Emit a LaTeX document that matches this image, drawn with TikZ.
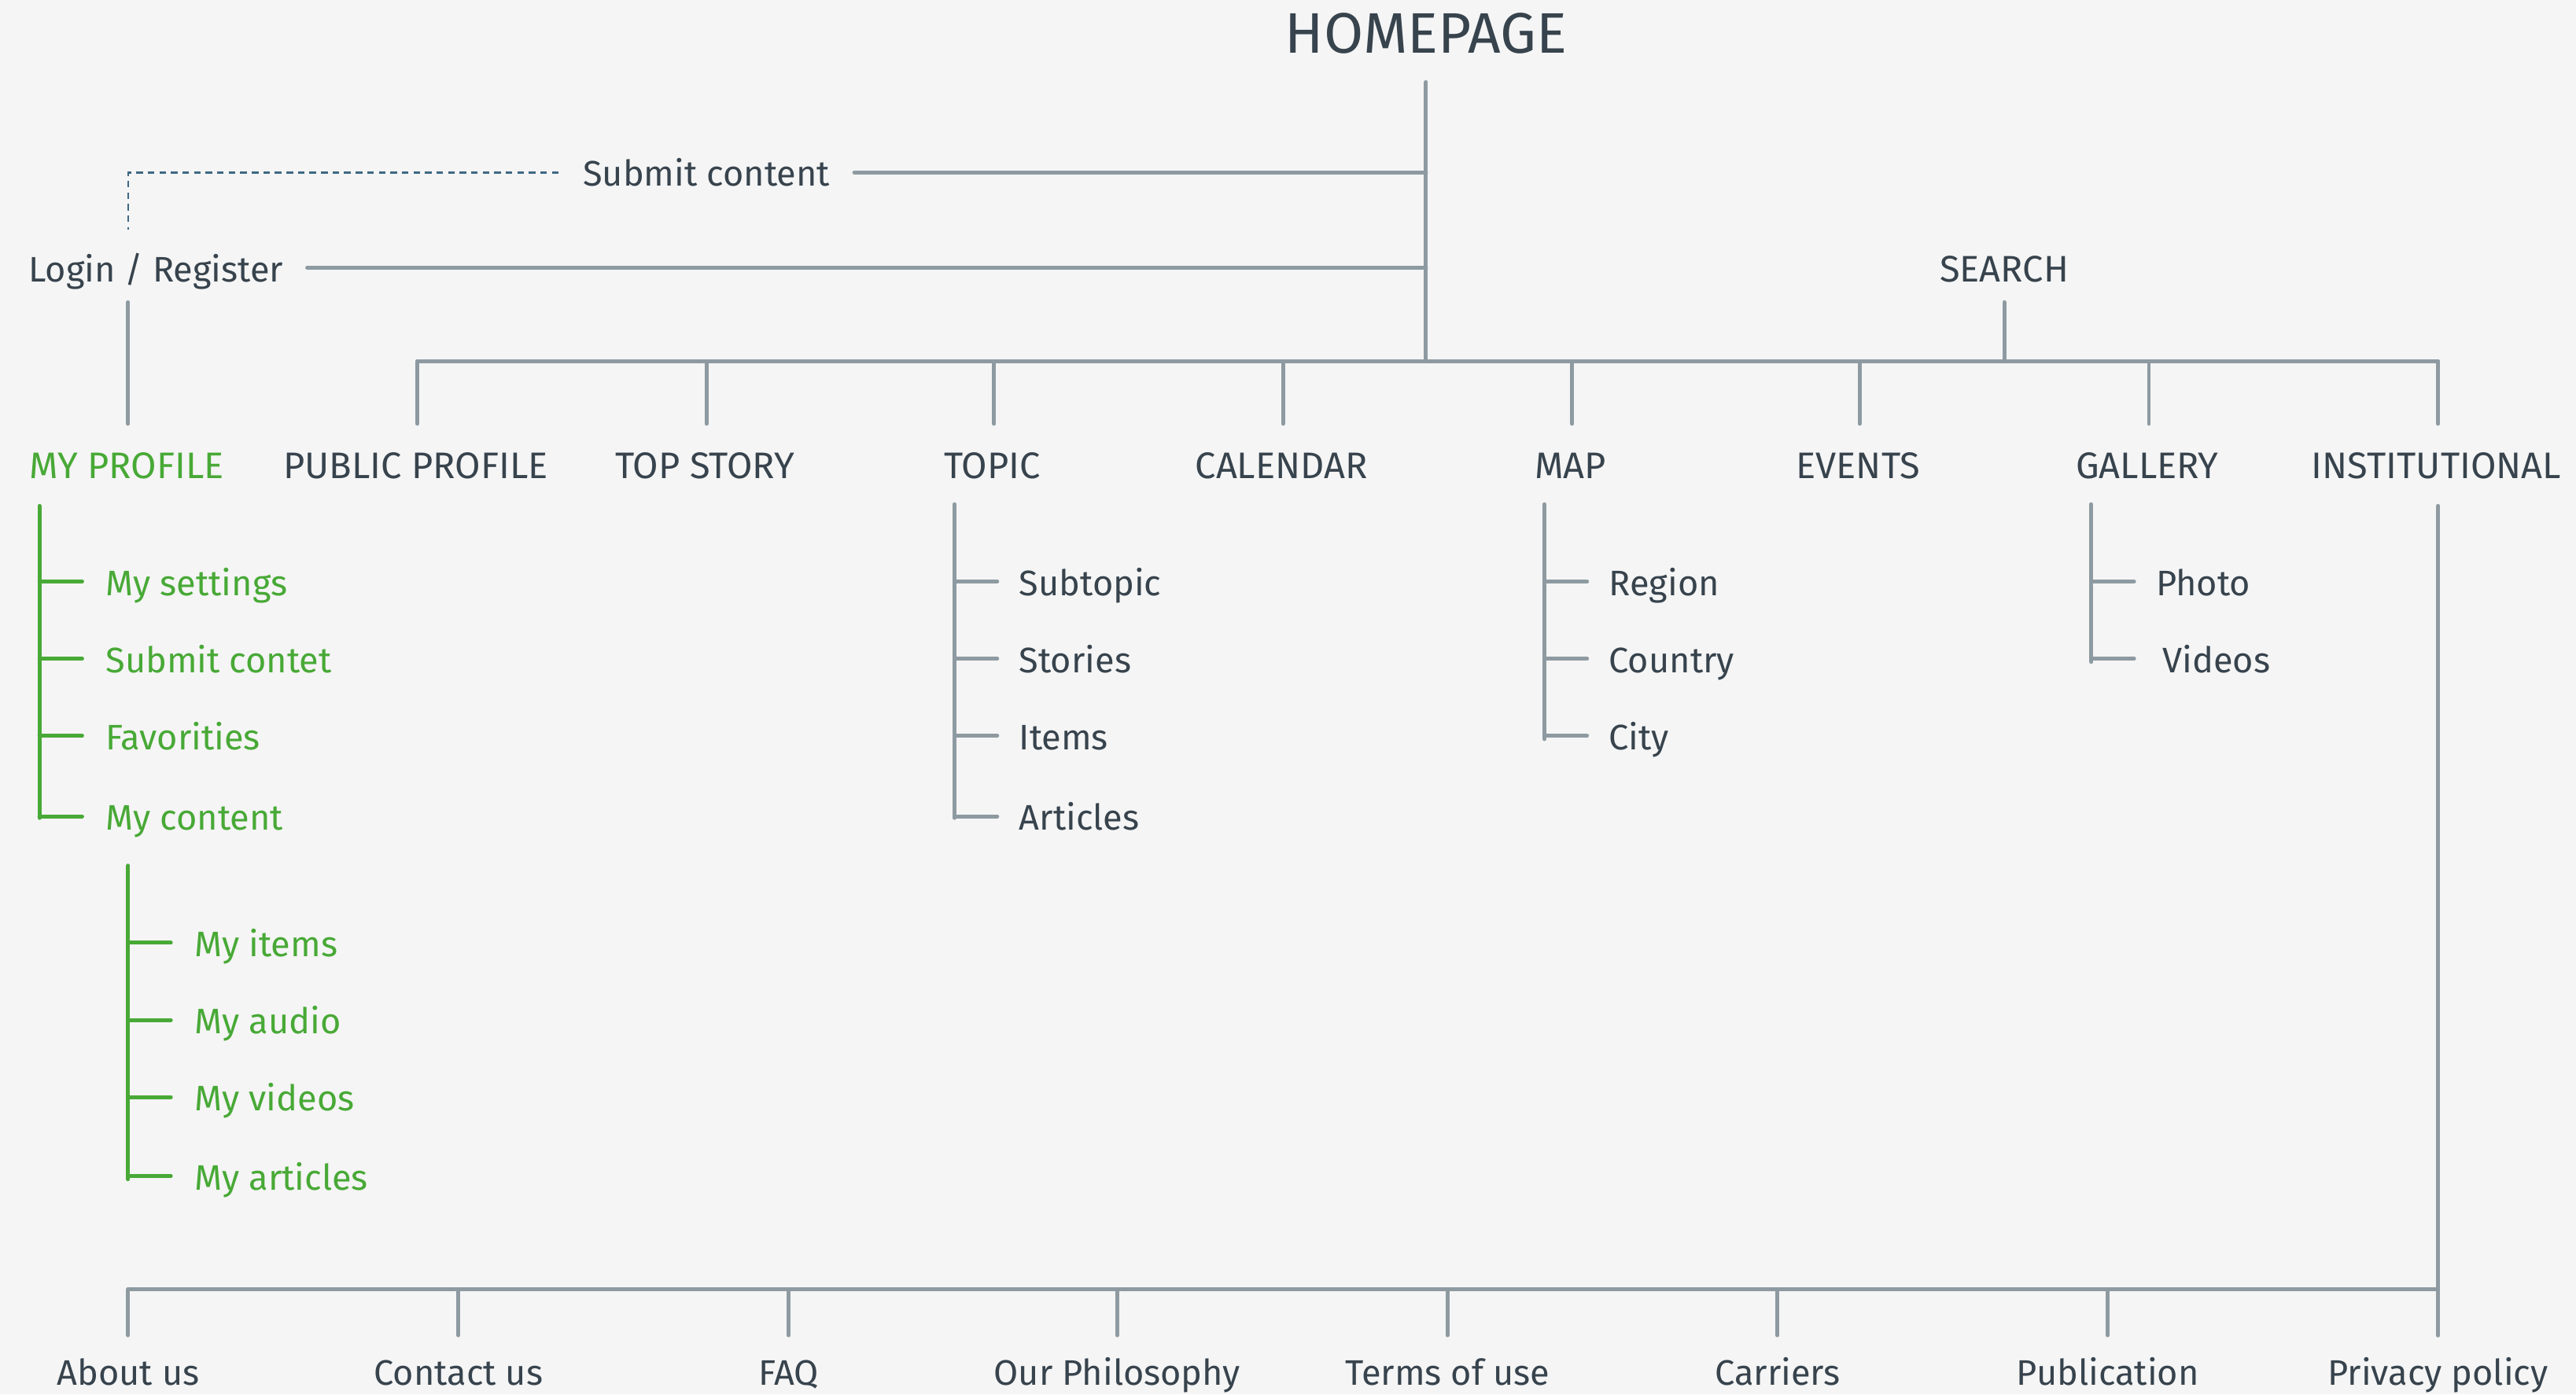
\documentclass[tikz,border=0pt]{standalone}
\usepackage{fontspec}
\setmainfont{Fira Sans}
\usetikzlibrary{calc}
\definecolor{bg}{HTML}{F5F5F5}
\definecolor{ln}{HTML}{8E9AA1}
\definecolor{tx}{HTML}{37434D}
\definecolor{gr}{HTML}{48A936}
\definecolor{dsh}{HTML}{3E6884}
\begin{document}
\begin{tikzpicture}[x=0.02cm,y=-0.02cm,
  lbl/.style={text=tx,font=\fontsize{12.3}{14}\selectfont,inner sep=0pt,anchor=base},
  caplbl/.style={lbl,font=\fontsize{12.8}{14}\selectfont},
  sublbl/.style={lbl,anchor=base west},
  gsub/.style={sublbl,text=gr},
  conn/.style={draw=ln,line width=1.35pt,line cap=round},
  gconn/.style={draw=gr,line width=1.35pt,line cap=round},
  dconn/.style={draw=dsh,line width=0.75pt,dash pattern=on 2.3pt off 1.7pt}]
\fill[bg] (0,0) rectangle (1568,849);
\useasboundingbox (0,0) rectangle (1568,849);

% top
\node[lbl,font=\fontsize{19.8}{22}\selectfont] (home) at (868,32.5) {HOMEPAGE};
\coordinate (hTop) at (868,50);
\coordinate (hSub) at (868,105);
\coordinate (hLog) at (868,163);
\coordinate (hBus) at (868,220);
\draw[conn] (hTop) -- (hBus);

\node[lbl] (submit) at (430,113) {Submit content};
\coordinate (subE) at (520,105);
\draw[conn] (subE) -- (hSub);
\coordinate (dStart) at (340,105);
\coordinate (dEnd) at (78,140);
\draw[dconn] (dStart) -| (dEnd);

\node[lbl] (login) at (95,171.5) {Login / Register};
\coordinate (logE) at (187,163);
\draw[conn] (logE) -- (hLog);
\coordinate (logS) at (78,184);
\coordinate (profN) at (78,258);
\draw[conn] (logS) -- (profN);

\node[caplbl] (search) at (1220,171.5) {SEARCH};
\coordinate (srchS) at (1220,184);
\coordinate (srchB) at (1220,220);
\draw[conn] (srchS) -- (srchB);

% main bus
\coordinate (busL) at (254,220);
\coordinate (busR) at (1484,220);
\draw[conn] (busL) -- (busR);

\node[caplbl,text=gr] (myprofile) at (77,291.5) {MY PROFILE};
\foreach \x/\n/\t in {253/pubprof/PUBLIC PROFILE,429/topstory/TOP STORY,604/topic/TOPIC,780/calendar/CALENDAR,956/map/MAP,1131/events/EVENTS,1307/gallery/GALLERY,1483/inst/INSTITUTIONAL}{
  \node[caplbl] (\n) at (\x,291.5) {\t};
  \coordinate (\n-top) at (\x+1,220);
  \coordinate (\n-drop) at (\x+1,258);
  \draw[conn] (\n-top) -- (\n-drop);
}

% MY PROFILE subtree
\coordinate (mpTop) at (24,308);
\coordinate (mpBot) at (24,498);
\draw[gconn] (mpTop) -- (mpBot);
\foreach \y/\n/\t in {354/myset/My settings,401/mysub/Submit contet,448/myfav/Favorities,497/mycont/My content}{
  \coordinate (\n-j) at (24,\y);
  \coordinate (\n-t) at (50,\y);
  \draw[gconn] (\n-j) -- (\n-t);
  \node[gsub] (\n) at (64,\y+8.5) {\t};
}
\coordinate (mcTop) at (78,527);
\coordinate (mcBot) at (78,718);
\draw[gconn] (mcTop) -- (mcBot);
\foreach \y/\n/\t in {574/myitems/My items,621/myaudio/My audio,668/myvideos/My videos,716/myarticles/My articles}{
  \coordinate (\n-j) at (78,\y);
  \coordinate (\n-t) at (104,\y);
  \draw[gconn] (\n-j) -- (\n-t);
  \node[gsub] (\n) at (118,\y+8.5) {\t};
}

% TOPIC subtree
\coordinate (tpTop) at (581,307);
\coordinate (tpBot) at (581,498);
\draw[conn] (tpTop) -- (tpBot);
\foreach \y/\n/\t in {354/subtopic/Subtopic,401/stories/Stories,448/items/Items,497/articles/Articles}{
  \coordinate (\n-j) at (581,\y);
  \coordinate (\n-t) at (607,\y);
  \draw[conn] (\n-j) -- (\n-t);
  \node[sublbl] (\n) at (620,\y+8.5) {\t};
}

% MAP subtree
\coordinate (mapTop) at (940,307);
\coordinate (mapBot) at (940,450);
\draw[conn] (mapTop) -- (mapBot);
\foreach \y/\n/\t in {354/region/Region,401/country/Country,448/city/City}{
  \coordinate (\n-j) at (940,\y);
  \coordinate (\n-t) at (966,\y);
  \draw[conn] (\n-j) -- (\n-t);
  \node[sublbl] (\n) at (979,\y+8.5) {\t};
}

% GALLERY subtree
\coordinate (galTop) at (1273,307);
\coordinate (galBot) at (1273,403);
\draw[conn] (galTop) -- (galBot);
\foreach \y/\n/\t/\xx in {354/photo/Photo/1312,401/videos/Videos/1316}{
  \coordinate (\n-j) at (1273,\y);
  \coordinate (\n-t) at (1299,\y);
  \draw[conn] (\n-j) -- (\n-t);
  \node[sublbl] (\n) at (\xx,\y+8.5) {\t};
}

% INSTITUTIONAL subtree
\coordinate (instTop) at (1484,308);
\coordinate (instBot) at (1484,813);
\draw[conn] (instTop) -- (instBot);
\coordinate (fbusL) at (78,785);
\coordinate (fbusR) at (1484,785);
\draw[conn] (fbusL) -- (fbusR);
\foreach \x/\n/\t in {78/about/About us,279/contact/Contact us,480/faq/FAQ,680/philo/Our Philosophy,881/terms/Terms of use,1082/carriers/Carriers,1283/publication/Publication,1484/privacy/Privacy policy}{
  \coordinate (\n-top) at (\x,785);
  \coordinate (\n-drop) at (\x,813);
  \draw[conn] (\n-top) -- (\n-drop);
  \node[lbl] (\n) at (\x,843.5) {\t};
}
\end{tikzpicture}
\end{document}
